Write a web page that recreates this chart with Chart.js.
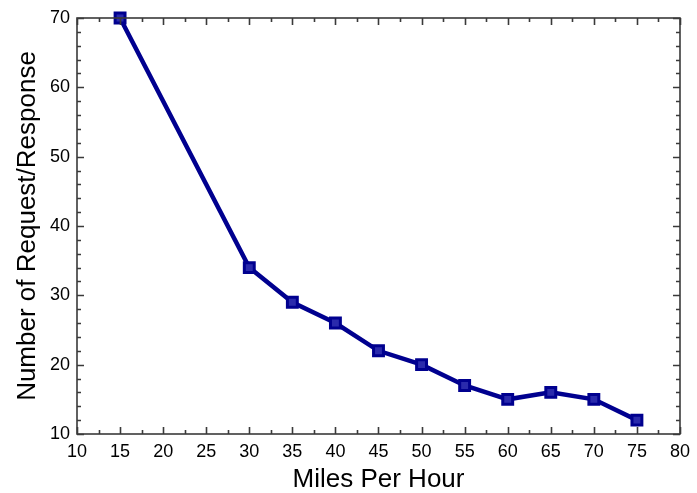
<!DOCTYPE html>
<html>
<head>
<meta charset="utf-8">
<script src="https://cdn.jsdelivr.net/npm/chart.js@4/dist/chart.umd.min.js"></script>
<style>
  html, body { margin: 0; padding: 0; background: #fff; }
  canvas { display: block; }
</style>
</head>
<body>
<canvas id="chart" width="697" height="493"></canvas>
<script>
const speeds = [15, 30, 35, 40, 45, 50, 55, 60, 65, 70, 75];
const requests = [70, 34, 29, 26, 22, 20, 17, 15, 16, 15, 12];
const xTitle = "Miles Per Hour";
const yTitle = "Number of Request/Response";

const lineColor = "#00008f";
const frameColor = "#3a3a3a";

// box around the plot with tick marks pointing inward on all sides
const boxTicks = {
  id: "boxTicks",
  afterDatasetsDraw(chart) {
    const ctx = chart.ctx;
    const a = chart.chartArea;
    const x = chart.scales.x;
    const y = chart.scales.y;
    ctx.save();
    ctx.strokeStyle = frameColor;
    ctx.lineWidth = 1.6;
    ctx.strokeRect(a.left, a.top, a.right - a.left, a.bottom - a.top);
    ctx.beginPath();
    for (let v = 10; v <= 80; v += 2.5) {
      const px = Math.round(x.getPixelForValue(v)) + 0.5;
      const len = v % 5 === 0 ? 7 : 4;
      ctx.moveTo(px, a.bottom);
      ctx.lineTo(px, a.bottom - len);
      ctx.moveTo(px, a.top);
      ctx.lineTo(px, a.top + len);
    }
    for (let v = 10; v <= 70; v += 2) {
      const py = Math.round(y.getPixelForValue(v)) + 0.5;
      const len = v % 10 === 0 ? 7 : 4;
      ctx.moveTo(a.left, py);
      ctx.lineTo(a.left + len, py);
      ctx.moveTo(a.right, py);
      ctx.lineTo(a.right - len, py);
    }
    ctx.stroke();
    ctx.restore();
  }
};

document.addEventListener("DOMContentLoaded", function () {
  const ctx = document.getElementById("chart").getContext("2d");
  new Chart(ctx, {
    type: "line",
    data: {
      datasets: [
        {
          label: yTitle,
          data: speeds.map((s, i) => ({ x: s, y: requests[i] })),
          borderColor: lineColor,
          backgroundColor: lineColor,
          borderWidth: 4.5,
          pointStyle: "rect",
          pointRadius: 7,
          pointBorderWidth: 3,
          pointBackgroundColor: "#2a2aac",
          pointBorderColor: lineColor,
          tension: 0,
          clip: false,
        },
      ],
    },
    options: {
      responsive: false,
      animation: false,
      layout: { padding: { top: 18, right: 11, left: 0, bottom: 0 } },
      plugins: {
        legend: { display: false },
        tooltip: { enabled: false },
      },
      scales: {
        x: {
          type: "linear",
          min: 10,
          max: 80,
          grid: { display: false, drawTicks: false },
          border: { display: false },
          ticks: {
            stepSize: 5,
            color: "#000",
            padding: 7,
            maxRotation: 0,
            font: { family: "Liberation Sans", size: 18 },
          },
          title: {
            display: true,
            text: xTitle,
            color: "#000",
            font: { family: "Liberation Sans", size: 26, lineHeight: 1 },
            padding: { top: 0, bottom: 0 },
          },
          afterFit(scale) {
            scale.height = 59;
          },
        },
        y: {
          min: 10,
          max: 70,
          grid: { display: false, drawTicks: false },
          border: { display: false },
          ticks: {
            stepSize: 10,
            color: "#000",
            padding: 7,
            font: { family: "Liberation Sans", size: 18 },
          },
          title: {
            display: true,
            text: yTitle,
            color: "#000",
            font: { family: "Liberation Sans", size: 26, lineHeight: 1 },
            padding: { top: 15, bottom: 0 },
          },
          afterFit(scale) {
            scale.width = 77;
          },
        },
      },
    },
    plugins: [boxTicks],
  });
});
</script>
</body>
</html>
